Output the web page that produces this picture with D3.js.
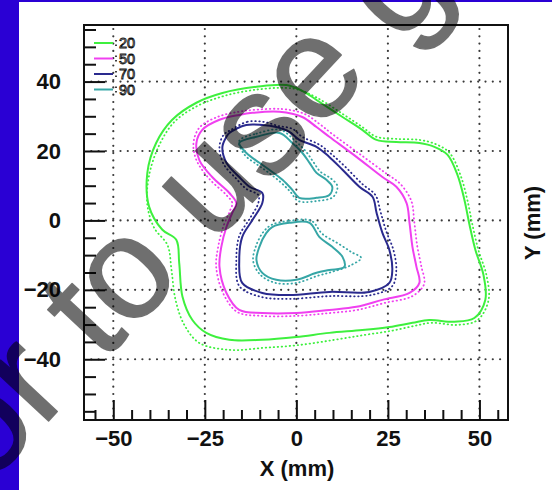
<!DOCTYPE html>
<html>
<head>
<meta charset="utf-8">
<script src="https://cdn.jsdelivr.net/npm/d3@7"></script>
<style>
  body { margin: 0; background: #fff; }
</style>
</head>
<body>
<div id="chart"></div>
<script>
// isodose levels (%) and their colours
const levels = ["20", "50", "70", "90"];
const levelColors = ["#3ef03e", "#f040f0", "#2a2a8e", "#36a6a6"];

// tick values (mm)
const xMajor = [-50, -25, 0, 25, 50];
const yMajor = [-40, -20, 0, 20, 40];
const minorTicks = d3.range(-55, 56, 5);

const iso20Solid = [[-2.7,39.0],[-10.9,38.5],[-20.2,36.7],[-27.3,33.9],[-33.9,29.0],[-38.3,22.3],[-40.7,13.7],[-40.2,3.9],[-36.6,-2.7],[-32.8,-5.6],[-32.0,-12.2],[-31.1,-22.0],[-28.4,-28.7],[-24.6,-32.4],[-18.3,-34.4],[-9.3,-34.4],[0,-33.6],[9.0,-32.4],[18.0,-31.6],[25.4,-30.7],[31.7,-29.5],[36.3,-28.7],[43.2,-29.2],[48.6,-28.1],[51.6,-22.9],[51.1,-15.7],[48.9,-8.5],[47.3,-1.3],[45.9,5.9],[44.0,13.1],[41.3,18.9],[37.7,21.2],[33.6,22.3],[27.3,22.6],[21.9,23.2],[18.0,26.1],[12.6,29.8],[5.5,34.7],[2.2,37.0]];
const iso20Dotted = [[-3.2,38.2],[-11.5,37.6],[-19.6,35.9],[-27.0,33.0],[-33.3,28.4],[-37.4,21.8],[-40.2,13.1],[-40.7,4.5],[-38.8,-2.2],[-35.2,-7.1],[-34.1,-14.3],[-33.0,-22.9],[-30.6,-30.1],[-26.5,-35.3],[-18.3,-37.3],[-8.7,-36.7],[0.8,-35.9],[10.4,-34.4],[18.6,-33.0],[26.0,-31.8],[32.2,-30.4],[36.9,-29.5],[44.0,-30.1],[49.5,-28.7],[52.5,-22.9],[51.9,-15.7],[49.7,-8.5],[48.1,-1.3],[46.7,5.9],[44.8,13.1],[41.8,19.5],[38.0,22.0],[33.6,23.2],[27.3,23.5],[21.9,24.1],[18.0,26.9],[12.6,30.7],[5.7,35.3],[0.8,37.6]];

const iso50Solid = [[-12.0,31.0],[-4.6,31.3],[1.6,29.8],[5.5,26.9],[9.0,24.1],[16.4,18.3],[23.5,12.5],[27.3,9.7],[30.1,5.0],[30.9,-0.7],[31.7,-7.6],[32.8,-13.4],[33.6,-18.0],[30.9,-20.9],[23.5,-22.9],[16.4,-24.9],[9.0,-25.8],[0,-26.7],[-9.3,-26.7],[-15.6,-25.8],[-19.1,-20.9],[-21.0,-13.4],[-20.5,-7.6],[-19.1,-1.9],[-17.5,2.2],[-16.4,5.0],[-18.3,7.9],[-23.0,12.5],[-26.5,17.4],[-27.3,22.3],[-25.7,26.1],[-21.0,29.0],[-15.6,30.4]];
const iso50Dotted = [[-12.0,31.8],[-4.0,32.1],[2.2,30.7],[6.3,27.8],[9.8,24.9],[17.2,19.2],[24.3,13.7],[28.4,10.5],[31.4,5.6],[32.2,-0.4],[33.0,-7.3],[34.1,-13.1],[34.9,-18.3],[31.7,-21.8],[24.0,-23.8],[16.6,-25.8],[9.0,-26.7],[0,-27.5],[-9.6,-27.5],[-16.1,-26.4],[-19.9,-21.2],[-21.9,-13.4],[-21.3,-7.3],[-19.9,-1.6],[-18.3,2.4],[-17.5,5.0],[-19.1,7.3],[-23.8,12.0],[-27.3,17.4],[-28.1,22.3],[-26.5,26.7],[-21.6,29.8],[-15.8,31.3]];

const iso70Solid = [[-18.3,25.2],[-13.7,27.5],[-9.3,27.5],[-5.5,26.9],[-1.9,25.5],[0.8,23.2],[5.5,21.2],[9.0,18.3],[12.6,14.6],[17.2,9.7],[20.8,6.8],[21.9,2.2],[23.5,-3.6],[25.4,-8.5],[26.2,-14.3],[25.4,-18.0],[19.9,-20.6],[9.0,-20.6],[-1.9,-21.5],[-9.3,-20.9],[-14.8,-18.0],[-15.6,-11.4],[-14.8,-4.8],[-12.0,0.1],[-9.3,5.0],[-9.3,7.9],[-12.8,9.7],[-15.6,12.5],[-19.1,16.6],[-20.2,21.2],[-19.1,24.1]];
const iso70Dotted = [[-18.0,26.0],[-13.4,28.4],[-9.0,28.4],[-4.9,27.2],[-1.1,26.4],[1.6,24.1],[6.3,21.8],[9.8,18.9],[13.7,15.1],[18.0,10.5],[21.6,7.3],[23.0,2.4],[24.6,-3.3],[26.5,-8.5],[27.3,-14.3],[26.2,-18.9],[20.5,-21.5],[9.0,-21.8],[-1.9,-22.6],[-9.8,-22.0],[-15.6,-18.9],[-16.4,-11.4],[-15.6,-4.5],[-12.8,0.4],[-10.4,5.0],[-10.4,7.3],[-13.7,9.1],[-16.4,12.0],[-19.9,16.3],[-21.0,21.2],[-19.9,24.6]];

const iso90UpperSolid = [[-15.6,22.3],[-10.9,24.1],[-4.6,25.2],[-1.1,22.3],[1.6,19.5],[3.6,16.6],[5.5,13.7],[8.2,11.7],[9.8,9.7],[9.0,7.3],[5.5,6.5],[0.8,6.5],[-1.1,8.8],[-3.8,11.7],[-7.4,14.6],[-10.1,16.6],[-13.7,19.5]];
const iso90UpperDotted = [[-15.6,22.9],[-10.9,25.0],[-4.4,26.1],[-0.3,22.9],[2.5,20.0],[4.6,16.9],[6.6,14.0],[9.3,12.2],[11.2,9.9],[10.1,6.8],[5.7,5.6],[0.5,5.6],[-1.6,8.2],[-4.4,11.1],[-7.9,14.0],[-10.6,16.0],[-14.2,19.0]];
const iso90LowerSolid = [[-6.6,-1.9],[-1.9,-0.7],[3.6,-0.7],[6.3,-4.8],[9.8,-7.6],[12.6,-10.5],[13.1,-13.4],[9.0,-14.3],[5.5,-15.1],[0,-17.1],[-5.5,-17.1],[-9.3,-15.1],[-10.9,-11.4],[-10.1,-7.6],[-8.2,-3.6]];
const iso90LowerDotted = [[-6.8,-1.3],[-1.9,-0.1],[4.1,-0.1],[7.1,-3.9],[11.2,-6.5],[15.0,-9.1],[17.7,-10.8],[14.5,-13.1],[9.8,-14.8],[5.7,-16.0],[0,-18.0],[-5.7,-18.0],[-9.8,-15.7],[-11.8,-11.7],[-11.0,-7.3],[-9.0,-3.3]];

const W = 552, H = 490;
const frame = { left: 84, right: 508, top: 25, bottom: 420 };

const svg = d3.select("#chart").append("svg")
  .attr("width", W)
  .attr("height", H)
  .style("display", "block");

// slide background: blue strip left/top, white panel
svg.append("rect").attr("width", W).attr("height", H).attr("fill", "#2a00d4");
svg.append("rect").attr("x", 19).attr("y", 2).attr("width", W - 19).attr("height", H - 2).attr("fill", "#fff");

const x = d3.scaleLinear().domain([-58, 57.8]).range([frame.left, frame.right]);
const y = d3.scaleLinear().domain([-57.5, 56.3]).range([frame.bottom, frame.top]);

// dotted grid
const grid = svg.append("g")
  .attr("stroke", "#3a3a3a")
  .attr("stroke-width", 2.2)
  .attr("stroke-linecap", "round")
  .attr("stroke-dasharray", "0,7.3");
grid.selectAll(".gx").data(xMajor).join("line")
  .attr("x1", d => x(d)).attr("x2", d => x(d))
  .attr("y1", frame.top + 4).attr("y2", frame.bottom);
grid.selectAll(".gy").data(yMajor).join("line")
  .attr("y1", d => y(d)).attr("y2", d => y(d))
  .attr("x1", frame.left).attr("x2", frame.right - 2);

// contours
const line = d3.line()
  .x(d => x(d[0]))
  .y(d => y(d[1]))
  .curve(d3.curveCatmullRomClosed.alpha(0.5));

const contours = [
  { pts: iso20Dotted, c: 0, dotted: true },
  { pts: iso20Solid, c: 0 },
  { pts: iso50Dotted, c: 1, dotted: true },
  { pts: iso50Solid, c: 1 },
  { pts: iso70Dotted, c: 2, dotted: true },
  { pts: iso70Solid, c: 2 },
  { pts: iso90UpperDotted, c: 3, dotted: true },
  { pts: iso90UpperSolid, c: 3 },
  { pts: iso90LowerDotted, c: 3, dotted: true },
  { pts: iso90LowerSolid, c: 3 }
];

svg.append("g").selectAll("path").data(contours).join("path")
  .attr("d", d => line(d.pts))
  .attr("fill", "none")
  .attr("stroke", d => levelColors[d.c])
  .attr("stroke-width", d => d.dotted ? 1.8 : 2)
  .attr("stroke-linecap", "round")
  .attr("stroke-dasharray", d => d.dotted ? "0.5,3.5" : null);

// axes, ticks pointing into the plot
const font = "'Liberation Sans', Arial, sans-serif";

function xAxis(g) {
  g.attr("transform", `translate(0,${frame.bottom})`)
    .call(d3.axisBottom(x).tickValues(xMajor).tickSizeInner(-20).tickSizeOuter(0).tickPadding(10))
    .call(g => g.select(".domain").remove())
    .attr("font-family", font)
    .attr("font-size", 22)
    .attr("font-weight", "bold");
  g.selectAll("line").attr("stroke", "#111").attr("stroke-width", 2);
  g.selectAll("text").attr("fill", "#111");
}

function yAxis(g) {
  g.attr("transform", `translate(${frame.left},0)`)
    .call(d3.axisLeft(y).tickValues(yMajor).tickSizeInner(-21).tickSizeOuter(0).tickPadding(23))
    .call(g => g.select(".domain").remove())
    .attr("font-family", font)
    .attr("font-size", 22)
    .attr("font-weight", "bold");
  g.selectAll("line").attr("stroke", "#111").attr("stroke-width", 2);
  g.selectAll("text").attr("fill", "#111");
}

svg.append("g").call(xAxis);
svg.append("g").call(yAxis);

svg.append("g")
  .attr("transform", `translate(0,${frame.bottom})`)
  .call(d3.axisBottom(x).tickValues(minorTicks.filter(d => !xMajor.includes(d))).tickSizeInner(-10).tickSizeOuter(0).tickFormat(""))
  .call(g => g.select(".domain").remove())
  .selectAll("line").attr("stroke", "#111").attr("stroke-width", 2);

svg.append("g")
  .attr("transform", `translate(${frame.left},0)`)
  .call(d3.axisLeft(y).tickValues(minorTicks.filter(d => !yMajor.includes(d))).tickSizeInner(-12).tickSizeOuter(0).tickFormat(""))
  .call(g => g.select(".domain").remove())
  .selectAll("line").attr("stroke", "#111").attr("stroke-width", 2);

// frame
svg.append("rect")
  .attr("x", frame.left).attr("y", frame.top)
  .attr("width", frame.right - frame.left).attr("height", frame.bottom - frame.top)
  .attr("fill", "none").attr("stroke", "#111").attr("stroke-width", 2);

// axis titles
svg.append("text")
  .attr("x", 297).attr("y", 476)
  .attr("text-anchor", "middle")
  .attr("font-family", font).attr("font-size", 22).attr("font-weight", "bold")
  .attr("fill", "#111")
  .text("X (mm)");

svg.append("text")
  .attr("transform", "translate(540,223) rotate(-90)")
  .attr("text-anchor", "middle")
  .attr("font-family", font).attr("font-size", 22).attr("font-weight", "bold")
  .attr("fill", "#111")
  .text("Y (mm)");

// legend: short line, a dot pair, hollow number
const legend = svg.append("g").selectAll("g").data(levels).join("g")
  .attr("transform", (d, i) => `translate(94,${43 + i * 15.5})`);
legend.append("line")
  .attr("x1", 0).attr("x2", 19)
  .attr("stroke", (d, i) => levelColors[i])
  .attr("stroke-width", 2);
legend.append("line")
  .attr("x1", 22).attr("x2", 22).attr("y1", -3).attr("y2", 3)
  .attr("stroke", "#111").attr("stroke-width", 1.6)
  .attr("stroke-dasharray", "1.5,3");
legend.append("text")
  .attr("x", 25).attr("y", 5)
  .attr("font-family", font).attr("font-size", 14.5)
  .attr("fill", "#fff").attr("stroke", "#111").attr("stroke-width", 0.9)
  .text(d => d);

// watermark over the whole slide
svg.append("text")
  .attr("transform", "translate(-40.6,516.6) rotate(-47)")
  .attr("font-family", font)
  .attr("font-size", 145)
  .attr("fill", "#000")
  .attr("stroke", "#000")
  .attr("stroke-width", 1.5)
  .attr("stroke-linejoin", "round")
  .attr("opacity", 0.56)
  .text("for to use g");
</script>
</body>
</html>
